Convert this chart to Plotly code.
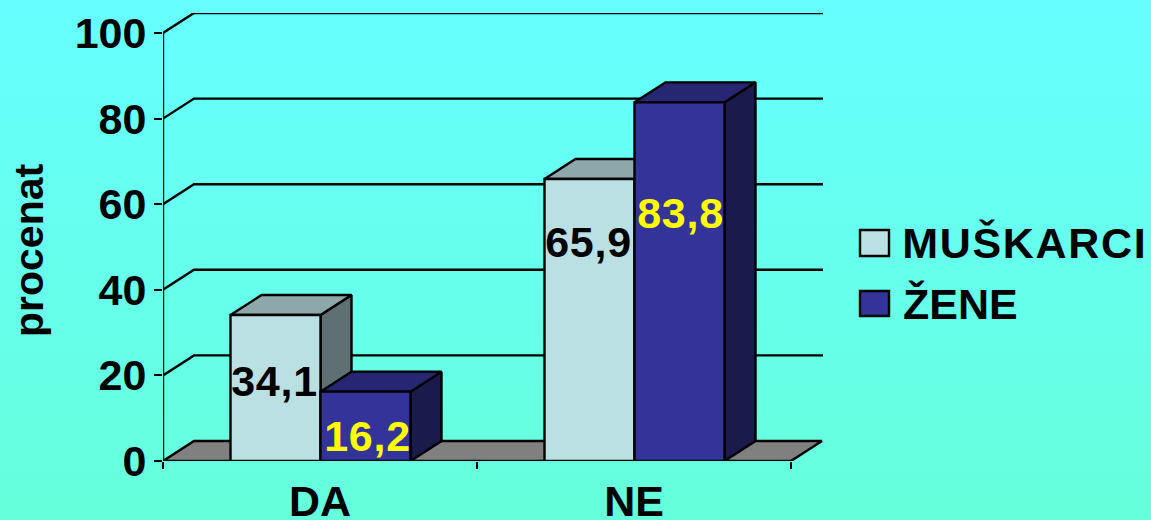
import plotly.graph_objects as go

# ---- data ----
categories = ["DA", "NE"]
series_names = ["MUŠKARCI", "ŽENE"]
muskarci = [34.1, 65.9]
zene = [16.2, 83.8]
label_heights_m = [17.6, 50.2]
label_heights_z = [4.9, 57.0]
y_ticks = [0, 20, 40, 60, 80, 100]

# ---- styles / geometry ----
W, H = 1151, 520
L, R, T, B = 163, 823, 13, 461
PX_X = 314.0          # pixels per category
PX_Y = 4.28           # pixels per percent
DX = 31 / PX_X        # depth offset
DY = 20 / PX_Y
BAR_W = 90 / PX_X
BAR_START = 67.5 / PX_X
XMAX = (R - L) / PX_X
YMAX = (B - T) / PX_Y
LW = 2.4
SIZE = 43
LIGHT = dict(front="#BBE0E3", top="#8DA8AB", side="#5E7071")
BLUE = dict(front="#333399", top="#262673", side="#1A1A4D")
FONT = "Liberation Sans, Arial, sans-serif"

fig = go.Figure()


def poly(xs, ys, fill):
    fig.add_trace(go.Scatter(
        x=xs + xs[:1], y=ys + ys[:1], mode="lines", fill="toself", fillcolor=fill,
        line=dict(color="black", width=LW), hoverinfo="skip", showlegend=False))


def path(xs, ys):
    fig.add_trace(go.Scatter(
        x=xs, y=ys, mode="lines", line=dict(color="black", width=LW),
        hoverinfo="skip", showlegend=False, cliponaxis=False))


def bar3d(x0, v, c):
    x1 = x0 + BAR_W
    poly([x1, x1 + DX, x1 + DX, x1], [0, DY, v + DY, v], c["side"])
    poly([x0, x0 + DX, x1 + DX, x1], [v, v + DY, v + DY, v], c["top"])
    poly([x0, x1, x1, x0], [0, 0, v, v], c["front"])


# wall gridlines
for t in y_ticks[1:]:
    path([0, DX, XMAX], [t, t + DY, t + DY])

# floor
poly([0, DX, len(categories) + DX, len(categories)], [0, DY, DY, 0], "#808080")

# bars
for i in range(len(categories)):
    bar3d(i + BAR_START, muskarci[i], LIGHT)
    bar3d(i + BAR_START + BAR_W, zene[i], BLUE)

# value axis line
path([0, 0], [-7 / PX_Y, y_ticks[-1]])

# value labels
fig.add_trace(go.Scatter(
    x=[i + BAR_START + BAR_W / 2 - 1 / PX_X for i in range(len(categories))], y=label_heights_m,
    mode="text", text=[f"{v:.1f}".replace(".", ",") for v in muskarci],
    textfont=dict(family=FONT, size=SIZE, color="black", weight="bold"),
    textposition="middle center", hoverinfo="skip", showlegend=False, cliponaxis=False))
fig.add_trace(go.Scatter(
    x=[i + BAR_START + 1.5 * BAR_W + (2 - i) / PX_X for i in range(len(categories))], y=label_heights_z,
    mode="text", text=[f"{v:.1f}".replace(".", ",") for v in zene],
    textfont=dict(family=FONT, size=SIZE, color="#FFFF00", weight="bold"),
    textposition="middle center", hoverinfo="skip", showlegend=False, cliponaxis=False))


def px(x):
    return (x - L) / (R - L)


def py(y):
    return (B - y) / (B - T)


# legend
shapes = []
annotations = []
for name, c, top, bottom, mid, center in zip(
        series_names, [LIGHT, BLUE], [230, 291], [256, 316], [243, 304], [1025, 960]):
    shapes.append(dict(type="rect", xref="paper", yref="paper",
                       x0=px(860), x1=px(889), y0=py(bottom), y1=py(top),
                       fillcolor=c["front"], line=dict(color="black", width=LW)))
    annotations.append(dict(xref="paper", yref="paper", x=px(center), y=py(mid), text=name,
                            showarrow=False, xanchor="center", yanchor="middle",
                            font=dict(family=FONT, size=SIZE, color="black", weight="bold")))

# value-axis title
annotations.append(dict(xref="paper", yref="paper", x=px(29), y=py(251), text="procenat",
                        textangle=-90, showarrow=False, xanchor="center", yanchor="middle",
                        font=dict(family=FONT, size=41, color="black", weight="bold")))

bg = ("data:image/svg+xml;utf8,<svg xmlns='http://www.w3.org/2000/svg' width='1151' height='520' "
      "preserveAspectRatio='none'><defs><linearGradient id='g' x1='0' y1='0' x2='0' y2='1'>"
      "<stop offset='0' stop-color='%2366FFFF'/><stop offset='1' stop-color='%2366FFDB'/>"
      "</linearGradient></defs><rect width='1151' height='520' fill='url(%23g)'/></svg>")

fig.update_layout(
    width=W, height=H, autosize=False,
    margin=dict(l=L, r=W - R, t=T, b=H - B, pad=0),
    paper_bgcolor="#66FFEE", plot_bgcolor="rgba(0,0,0,0)",
    font=dict(family=FONT, size=SIZE, color="black"),
    showlegend=False, shapes=shapes, annotations=annotations,
    images=[dict(source=bg, xref="paper", yref="paper", x=px(0), y=py(0),
                 sizex=W / (R - L), sizey=H / (B - T), sizing="stretch",
                 xanchor="left", yanchor="top", layer="below")],
    xaxis=dict(range=[0, XMAX], showgrid=False, zeroline=False, showline=False, automargin=False,
               tickmode="array", tickvals=[i + 0.5 for i in range(len(categories))],
               ticktext=categories, ticks="", fixedrange=True, ticklabelstandoff=11,
               tickfont=dict(family=FONT, size=SIZE, weight="bold"),
               minor=dict(tickmode="array", tickvals=list(range(len(categories) + 1)),
                          ticks="outside", ticklen=7, tickwidth=LW, tickcolor="black",
                          showgrid=False)),
    yaxis=dict(range=[0, YMAX], showgrid=False, zeroline=False, showline=False, automargin=False,
               tickmode="array", tickvals=y_ticks, ticks="outside", ticklen=8,
               tickwidth=LW, tickcolor="black", fixedrange=True, ticklabelstandoff=-1,
               tickfont=dict(family=FONT, size=SIZE, weight="bold")),
)

post = """
document.body.style.margin='0';
document.querySelectorAll('.annotation-text').forEach(t=>{
  if (t.textContent.indexOf('MU')===0) t.style.letterSpacing='1.7px';
});
document.querySelectorAll('.textpoint text').forEach(t=>{t.style.letterSpacing='0.7px';});
"""
fig.write_html("out.html", post_script=post, config=dict(displayModeBar=False))
